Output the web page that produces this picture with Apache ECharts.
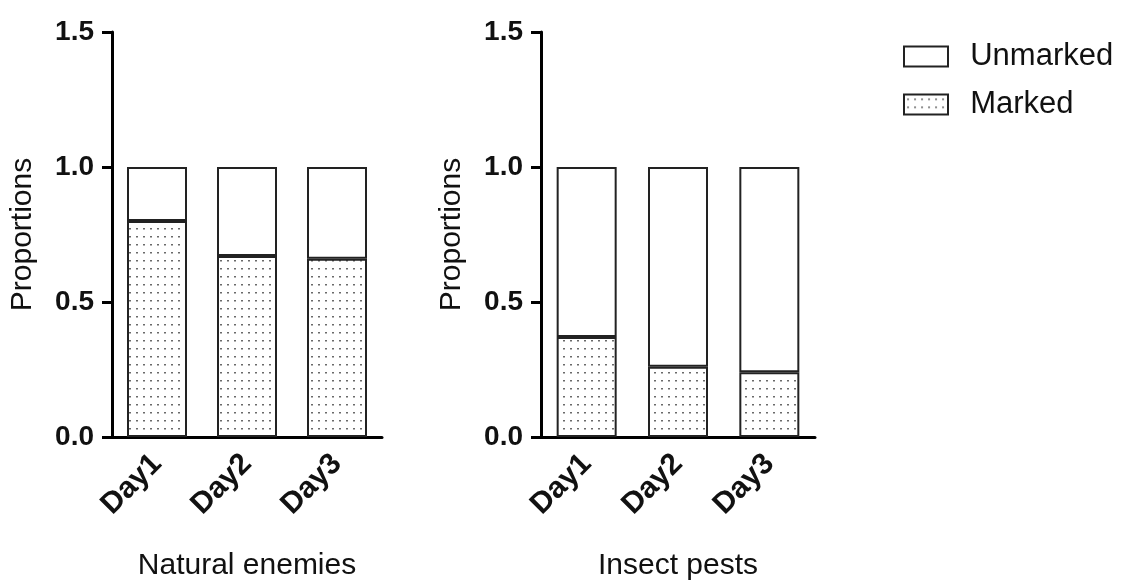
<!DOCTYPE html>
<html>
<head>
  <meta charset="UTF-8">
  <title>Proportions</title>
  <script src="https://cdn.jsdelivr.net/npm/echarts@6/dist/echarts.min.js"></script>
  <style>
    html, body { margin: 0; padding: 0; background: #fff; }
    #main { width: 1123px; height: 581px; }
  </style>
</head>
<body>
<div id="main"></div>
<script>
  // data
  const days = ['Day1', 'Day2', 'Day3'];
  const yTicks = [0, 0.5, 1.0, 1.5];
  const enemiesMarked = [0.80, 0.67, 0.66];
  const enemiesUnmarked = [0.20, 0.33, 0.34];
  const pestsMarked = [0.37, 0.26, 0.24];
  const pestsUnmarked = [0.63, 0.74, 0.76];
  const panelNames = ['Natural enemies', 'Insect pests'];

  // dotted fill for the "Marked" bars
  let dots = document.createElement('canvas');
  dots.width = 7;
  dots.height = 8;
  let ctx = dots.getContext('2d');
  ctx.fillStyle = '#fff';
  ctx.fillRect(0, 0, 7, 8);
  ctx.fillStyle = '#6a6a6a';
  ctx.fillRect(3, 4, 2, 1.5);

  const font = 'Liberation Sans, Arial, sans-serif';

  function yAxis(idx) {
    return {
      type: 'value',
      gridIndex: idx,
      min: yTicks[0],
      max: yTicks[yTicks.length - 1],
      interval: 0.5,
      name: 'Proportions',
      nameLocation: 'middle',
      nameGap: 74,
      nameTextStyle: { fontFamily: font, fontSize: 30, color: '#111' },
      axisLine: { show: true, lineStyle: { color: '#000', width: 3 } },
      axisTick: { show: true, length: 10, lineStyle: { color: '#000', width: 3 } },
      splitLine: { show: false },
      axisLabel: {
        fontFamily: font, fontSize: 28, fontWeight: 'bold', color: '#111', margin: 18,
        formatter: function (v) { return v.toFixed(1); }
      }
    };
  }

  function xAxis(idx) {
    return {
      type: 'category',
      gridIndex: idx,
      data: days,
      name: panelNames[idx],
      nameLocation: 'middle',
      nameGap: 114,
      nameTextStyle: { fontFamily: font, fontSize: 30, color: '#111' },
      axisLine: { lineStyle: { color: '#000', width: 3 } },
      axisTick: { alignWithLabel: true, length: 10, lineStyle: { color: '#000', width: 3 } },
      axisLabel: {
        rotate: 45, margin: 22, interval: 0,
        fontFamily: font, fontSize: 30, fontWeight: 'bold', color: '#111'
      }
    };
  }

  const markedStyle = { color: { image: dots, repeat: 'repeat' }, borderColor: '#222', borderWidth: 2 };
  const unmarkedStyle = { color: '#fff', borderColor: '#222', borderWidth: 2 };

  let myChart = echarts.init(document.getElementById('main'), null, { renderer: 'canvas' });
  let option = {
    animation: false,
    backgroundColor: '#fff',
    grid: [
      { left: 112, top: 32, width: 270, height: 405, outerBoundsMode: 'none', containLabel: false },
      { left: 541, top: 32, width: 274, height: 405, outerBoundsMode: 'none', containLabel: false }
    ],
    legend: {
      data: ['Unmarked', 'Marked'],
      orient: 'vertical',
      left: 898,
      top: 36,
      icon: 'rect',
      itemWidth: 44,
      itemHeight: 20,
      itemGap: 17,
      formatter: '  {name}',
      textStyle: { fontFamily: font, fontSize: 31, color: '#111', lineHeight: 31 }
    },
    xAxis: [xAxis(0), xAxis(1)],
    yAxis: [yAxis(0), yAxis(1)],
    series: [
      { name: 'Marked', type: 'bar', stack: 'a', xAxisIndex: 0, yAxisIndex: 0, barWidth: 60,
        itemStyle: markedStyle, data: enemiesMarked },
      { name: 'Unmarked', type: 'bar', stack: 'a', xAxisIndex: 0, yAxisIndex: 0, barWidth: 60,
        itemStyle: unmarkedStyle, data: enemiesUnmarked },
      { name: 'Marked', type: 'bar', stack: 'b', xAxisIndex: 1, yAxisIndex: 1, barWidth: 60,
        itemStyle: markedStyle, data: pestsMarked },
      { name: 'Unmarked', type: 'bar', stack: 'b', xAxisIndex: 1, yAxisIndex: 1, barWidth: 60,
        itemStyle: unmarkedStyle, data: pestsUnmarked }
    ]
  };
  myChart.setOption(option);

  window.addEventListener('resize', function () {
    myChart.resize();
  });
</script>
</body>
</html>
